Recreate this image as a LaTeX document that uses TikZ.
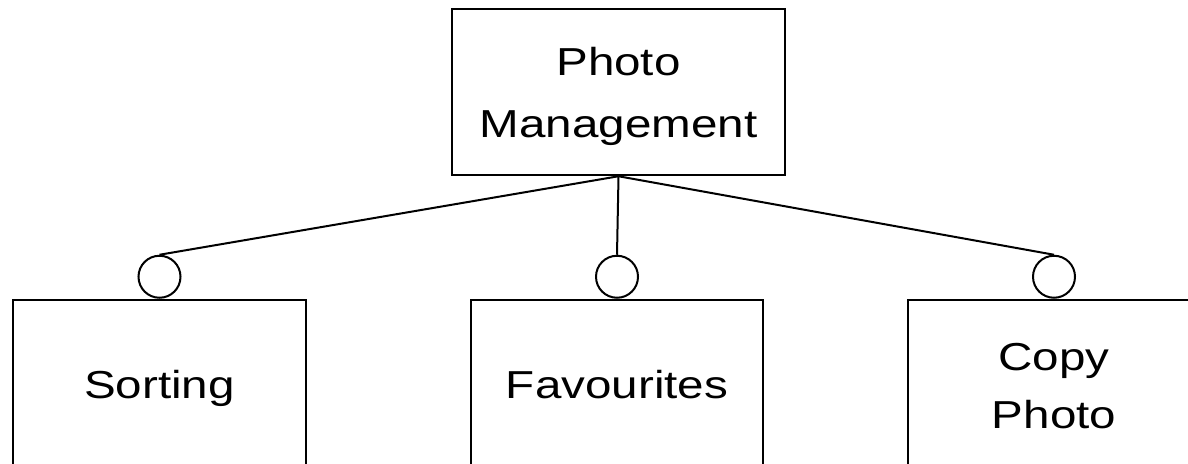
\documentclass[tikz,border=0pt]{standalone}
\usepackage{fontspec}
\setmainfont{Liberation Sans}[FakeStretch=1.22]
\begin{document}
\begin{tikzpicture}[x=1pt,y=-1pt,
  box/.style={draw, line width=2.5pt, minimum height=166pt, align=center, inner sep=0pt},
  knob/.style={draw, circle, line width=2pt, minimum size=42pt, inner sep=0pt},
  conn/.style={line width=2pt}]
\useasboundingbox (0,0) rectangle (1188,463);
\clip (0,0) rectangle (1188,463);
\node[box, minimum width=333pt, text height=98pt, text depth=8pt,
  font=\fontsize{39}{62}\selectfont] (top) at (618.5,92) {Photo\\Management};
\node[box, minimum width=293pt, text height=34pt, text depth=4pt,
  font=\fontsize{39}{58}\selectfont] (sort) at (159.5,383) {Sorting};
\node[box, minimum width=292pt, text height=34pt, text depth=4pt,
  font=\fontsize{39}{58}\selectfont] (fav) at (617,383) {Favourites};
\node[box, minimum width=292pt, text height=96pt, text depth=6pt,
  font=\fontsize{39}{58}\selectfont] (copy) at (1054,383) {Copy\\Photo};
\node[knob, anchor=south] (k1) at (sort.north) {};
\node[knob, anchor=south] (k2) at (fav.north) {};
\node[knob, anchor=south] (k3) at (copy.north) {};
\draw[conn] (top.south) -- (k1.north);
\draw[conn] (top.south) -- (k2.north);
\draw[conn] (top.south) -- (k3.north);
\end{tikzpicture}
\end{document}
